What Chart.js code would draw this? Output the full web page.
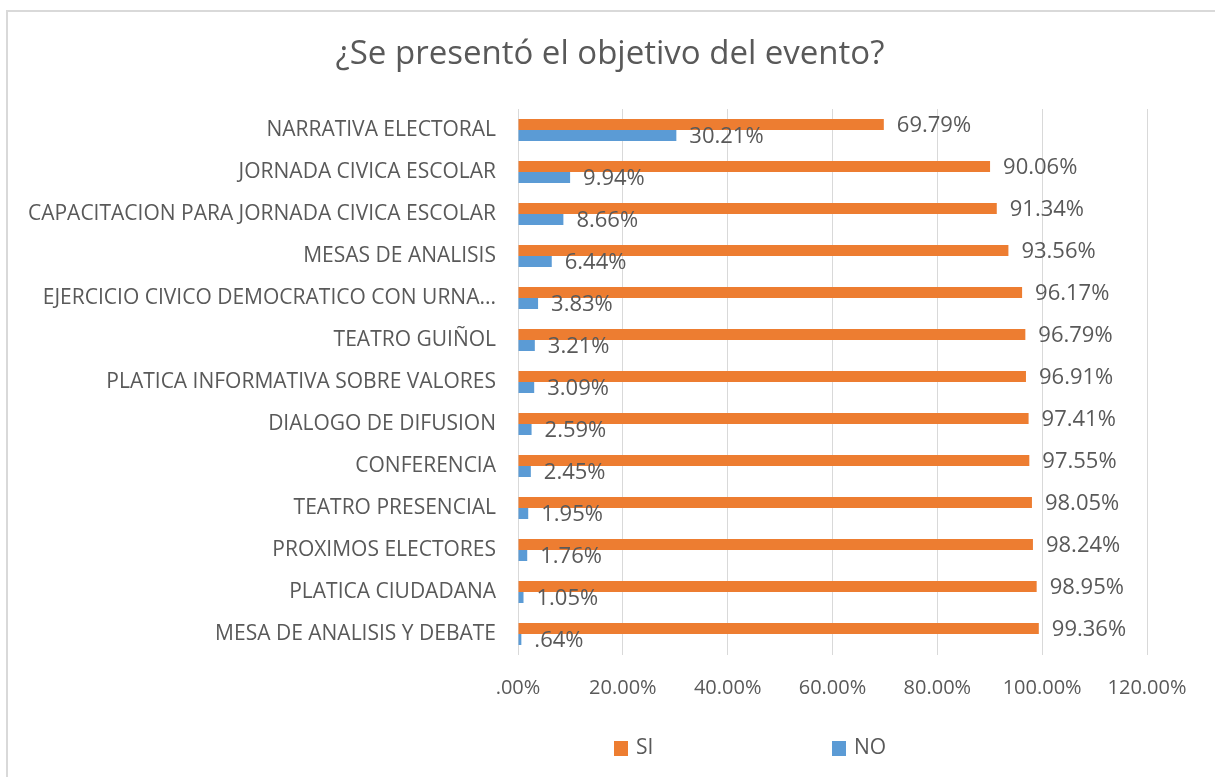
<!DOCTYPE html>
<html>
<head>
<meta charset="utf-8">
<script src="https://cdn.jsdelivr.net/npm/chart.js@4/dist/chart.umd.min.js"></script>
<style>
html,body{margin:0;padding:0;background:#fff;}
#wrap{width:1215px;height:777px;position:relative;}
</style>
</head>
<body>
<div id="wrap"><canvas id="c" width="1215" height="777"></canvas></div>
<script>
const titleText = "¿Se presentó el objetivo del evento?";
const categories = [
  "NARRATIVA ELECTORAL",
  "JORNADA CIVICA ESCOLAR",
  "CAPACITACION PARA JORNADA CIVICA ESCOLAR",
  "MESAS DE ANALISIS",
  "EJERCICIO CIVICO DEMOCRATICO CON URNA...",
  "TEATRO GUIÑOL",
  "PLATICA INFORMATIVA SOBRE VALORES",
  "DIALOGO DE DIFUSION",
  "CONFERENCIA",
  "TEATRO PRESENCIAL",
  "PROXIMOS ELECTORES",
  "PLATICA CIUDADANA",
  "MESA DE ANALISIS Y DEBATE"
];
const siValues = [69.79, 90.06, 91.34, 93.56, 96.17, 96.79, 96.91, 97.41, 97.55, 98.05, 98.24, 98.95, 99.36];
const noValues = [30.21, 9.94, 8.66, 6.44, 3.83, 3.21, 3.09, 2.59, 2.45, 1.95, 1.76, 1.05, 0.64];
const xTicks = [0, 20, 40, 60, 80, 100, 120];
const seriesNames = ["SI", "NO"];
const seriesColors = ["#ED7D31", "#5B9BD5"];

const FONT = "'Open Sans', 'Noto Sans', sans-serif";
const TEXT = "#595959";

function fmt(v) {
  let s = v.toFixed(2);
  if (s.startsWith("0")) s = s.slice(1);
  return s + "%";
}

const frame = {
  id: 'frame',
  beforeDraw(chart) {
    const ctx = chart.ctx;
    ctx.save();
    ctx.fillStyle = '#fff';
    ctx.fillRect(0, 0, chart.width, chart.height);
    ctx.strokeStyle = '#d9d9d9';
    ctx.lineWidth = 2;
    ctx.beginPath();
    ctx.moveTo(7, 777);
    ctx.lineTo(7, 11);
    ctx.lineTo(1215, 11);
    ctx.stroke();
    ctx.restore();
  },
  afterDraw(chart) {
    const ctx = chart.ctx;
    ctx.save();
    ctx.font = "33px " + FONT;
    ctx.fillStyle = TEXT;
    ctx.textAlign = 'center';
    ctx.textBaseline = 'alphabetic';
    ctx.fillText(titleText, 610, 64);
    ctx.restore();
  }
};

const valueLabels = {
  id: 'valueLabels',
  afterDatasetsDraw(chart) {
    const ctx = chart.ctx;
    ctx.save();
    ctx.font = "22px " + FONT;
    ctx.fillStyle = TEXT;
    ctx.textAlign = 'left';
    ctx.textBaseline = 'middle';
    chart.data.datasets.forEach((ds, di) => {
      const meta = chart.getDatasetMeta(di);
      meta.data.forEach((bar, i) => {
        ctx.fillText(fmt(ds.data[i]), bar.x + 13, bar.y + 1);
      });
    });
    ctx.restore();
  }
};

const customLegend = {
  id: 'customLegend',
  afterDraw(chart) {
    const ctx = chart.ctx;
    ctx.save();
    ctx.font = "21px " + FONT;
    ctx.textBaseline = 'middle';
    ctx.textAlign = 'left';
    const xs = [614, 832];
    const y = 748;
    chart.data.datasets.forEach((ds, di) => {
      ctx.fillStyle = ds.backgroundColor;
      ctx.fillRect(xs[di], y - 7, 14, 15);
      ctx.fillStyle = TEXT;
      ctx.fillText(ds.label, xs[di] + 22, y);
    });
    ctx.restore();
  }
};

new Chart(document.getElementById('c'), {
  type: 'bar',
  data: {
    labels: categories,
    datasets: [
      { label: seriesNames[0], data: siValues, backgroundColor: seriesColors[0], categoryPercentage: 0.525, barPercentage: 1.0 },
      { label: seriesNames[1], data: noValues, backgroundColor: seriesColors[1], categoryPercentage: 0.525, barPercentage: 1.0 }
    ]
  },
  options: {
    indexAxis: 'y',
    responsive: false,
    animation: false,
    layout: { padding: { left: 0, right: 68, top: 109, bottom: 0 } },
    plugins: {
      legend: { display: false },
      tooltip: { enabled: false },
      title: { display: false }
    },
    scales: {
      x: {
        type: 'linear',
        min: 0, max: 120,
        afterBuildTicks(scale) { scale.ticks = xTicks.map(v => ({ value: v })); },
        afterFit(scale) { scale.height = 122; },
        grid: { color: '#d9d9d9', lineWidth: 1, drawTicks: false },
        border: { display: false },
        ticks: {
          color: TEXT,
          padding: 21,
          font: { family: FONT, size: 20 },
          callback: (v) => fmt(v),
          maxRotation: 0
        }
      },
      y: {
        afterFit(scale) { scale.width = 518; },
        grid: { display: false, drawTicks: false },
        border: { display: false },
        ticks: {
          color: TEXT,
          padding: 22,
          font: { family: FONT, size: 21 },
          autoSkip: false
        }
      }
    }
  },
  plugins: [frame, valueLabels, customLegend]
});
</script>
</body>
</html>
